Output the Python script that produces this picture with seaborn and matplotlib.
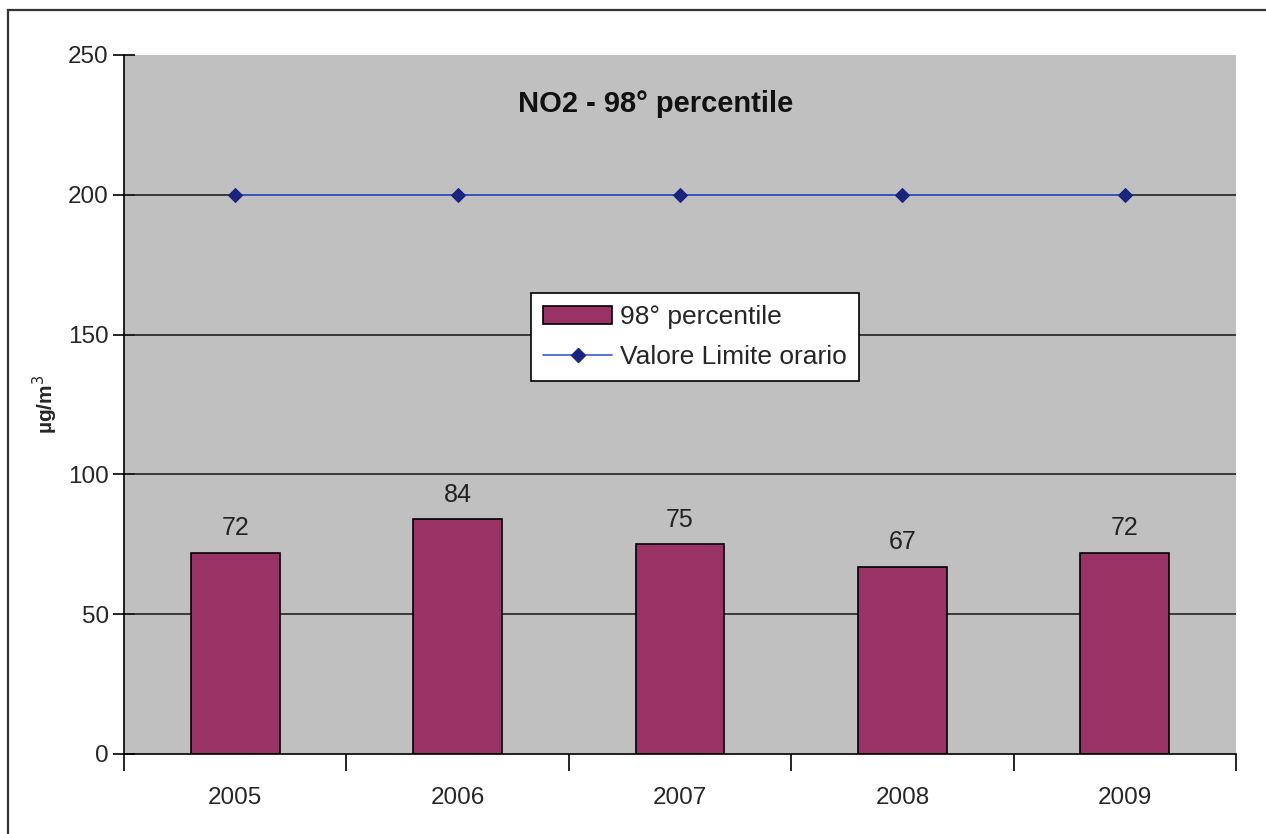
import matplotlib
matplotlib.use("Agg")
import matplotlib.pyplot as plt
import seaborn as sns
import pandas as pd
from matplotlib.patches import Rectangle
from matplotlib.lines import Line2D
from matplotlib.patches import Patch

years = ["2005", "2006", "2007", "2008", "2009"]
percentile98 = [72, 84, 75, 67, 72]
limit_values = [200, 200, 200, 200, 200]
yticks = [0, 50, 100, 150, 200, 250]

sns.set_style("white")
plt.rcParams['font.family'] = ['Liberation Sans', 'DejaVu Sans']
plt.rcParams['xtick.bottom'] = True
plt.rcParams['ytick.left'] = True

df = pd.DataFrame({"year": years, "p98": percentile98, "limit": limit_values})

fig = plt.figure(figsize=(12.66, 8.34), dpi=100)
ax = fig.add_axes([124/1266, 1-754/834, (1236-124)/1266, (754-55)/834])
ax.set_facecolor("#c0c0c0")

# outer frame
fig.patches.append(Rectangle((8/1266, -0.05), 1.2, 1 - 10/834 + 0.05, transform=fig.transFigure,
                             fill=False, edgecolor="#333333", linewidth=1.6, zorder=0))

for y in yticks[1:5]:
    ax.axhline(y, color="#222222", linewidth=1.2, zorder=1)

sns.barplot(data=df, x="year", y="p98", color="#993366", width=0.4,
            edgecolor="black", linewidth=1.2, saturation=1, ax=ax, zorder=2)
sns.lineplot(x=list(range(len(years))), y=limit_values, ax=ax, color="#3a5bd0",
             linewidth=1.2, marker="D", markersize=7, markerfacecolor="#1a237e",
             markeredgecolor="#1a237e", zorder=3)

for i, v in enumerate(percentile98):
    ax.text(i, v + 4.5, str(v), ha="center", va="bottom", fontsize=18, color="#222222")

ax.set_xlim(-0.5, len(years) - 0.5)
ax.set_ylim(0, 250)
ax.set_yticks(yticks)
ax.set_yticklabels([str(t) for t in yticks], fontsize=17.5)
ax.set_xticks(range(len(years)))
ax.set_xticklabels(years, fontsize=17.5)
ax.tick_params(axis="x", which="major", length=0, pad=24)
ax.tick_params(axis="y", direction="inout", length=16, width=1.2, pad=3, color="black")
# minor x ticks at category boundaries
ax.set_xticks([i - 0.5 for i in range(len(years) + 1)], minor=True)
ax.tick_params(axis="x", which="minor", bottom=True, direction="out", length=12, width=1.2,
               color="black")
ax.set_xlabel("")
ax.set_ylabel("µg/m$^3$", fontsize=15, fontweight="bold", labelpad=6)

for s in ["top", "right"]:
    ax.spines[s].set_visible(False)
for s in ["left", "bottom"]:
    ax.spines[s].set_color("black")
    ax.spines[s].set_linewidth(1.2)

ax.text(0.478, 0.93, "NO2 - 98° percentile", transform=ax.transAxes, ha="center",
        va="center", fontsize=21, fontweight="bold", color="#111111")

handles = [Patch(facecolor="#993366", edgecolor="black", linewidth=1.2),
           Line2D([0], [0], color="#3a5bd0", linewidth=1.2, marker="D", markersize=7,
                  markerfacecolor="#1a237e", markeredgecolor="#1a237e")]
leg = ax.legend(handles, ["98° percentile", "Valore Limite orario"], loc="center",
                bbox_to_anchor=((695 - 124) / 1112, 1 - (337 - 55) / 699), fontsize=19,
                frameon=True, fancybox=False, framealpha=1, edgecolor="black",
                borderpad=0.45, labelspacing=0.6, handlelength=2.6, handletextpad=0.3,
                borderaxespad=0)
leg.get_frame().set_linewidth(1.2)
leg.set_zorder(5)

fig.savefig("out.png", dpi=100)
